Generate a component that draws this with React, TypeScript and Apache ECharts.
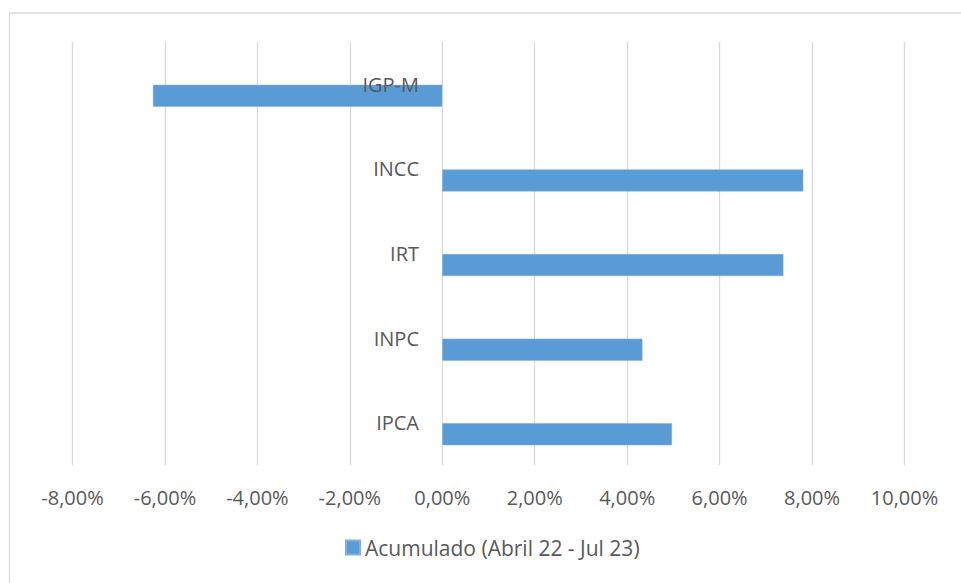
import React, { useEffect, useRef } from "react";
import * as echarts from "echarts";

const categories = ["IPCA", "INPC", "IRT", "INCC", "IGP-M"];
const values = [4.97, 4.33, 7.38, 7.81, -6.26];
const seriesName = "Acumulado (Abril 22 - Jul 23)";
const axisMin = -8;
const axisMax = 10;
const axisStep = 2;

const FONT = "'Open Sans', sans-serif";
const TEXT = "#595959";

export default function App() {
  const ref = useRef<HTMLDivElement>(null);
  useEffect(() => {
    document.body.style.margin = "0";
    const chart = echarts.init(ref.current!, null, { renderer: "svg" });
    chart.setOption({
      animation: false,
      textStyle: { fontFamily: FONT },
      grid: {
        left: 72.5,
        right: 56.5,
        top: 42,
        bottom: 118,
        containLabel: false,
        outerBoundsMode: "none",
      },
      legend: {
        data: [seriesName],
        bottom: 20,
        left: 340,
        itemWidth: 14,
        itemHeight: 14,
        itemGap: 6,
        icon: "rect",
        textStyle: { color: TEXT, fontSize: 21, fontFamily: FONT },
      },
      xAxis: {
        type: "value",
        min: axisMin,
        max: axisMax,
        interval: axisStep,
        axisLine: { show: false },
        axisTick: { show: false },
        splitLine: { show: true, lineStyle: { color: "#d9d9d9", width: 1.3 } },
        axisLabel: {
          color: TEXT,
          fontSize: 20,
          fontFamily: FONT,
          margin: 22,
          formatter: (v: number) => v.toFixed(2).replace(".", ",") + "%",
        },
      },
      yAxis: {
        type: "category",
        data: categories,
        z: 5,
        axisLine: { show: false },
        axisTick: { show: false },
        splitLine: { show: false },
        axisLabel: {
          color: TEXT,
          fontSize: 20,
          fontFamily: FONT,
          margin: -346.5,
          align: "right",
        },
      },
      series: [
        {
          name: "placeholder",
          type: "bar",
          data: categories.map(() => null),
          barWidth: 22,
          barGap: "5%",
          itemStyle: { color: "#5b9bd5" },
        },
        {
          name: seriesName,
          type: "bar",
          data: values,
          barWidth: 22,
          barGap: "5%",
          itemStyle: { color: "#5b9bd5", borderColor: "#7fb0de", borderWidth: 0.5 },
        },
      ],
      graphic: [
        {
          type: "rect",
          shape: { x: 9.5, y: 13, width: 1000, height: 1000 },
          style: { fill: "none", stroke: "#d9d9d9", lineWidth: 1.3 },
          silent: true,
        },
      ],
    });
    return () => chart.dispose();
  }, []);
  return <div ref={ref} style={{ width: 961, height: 583 }} />;
}
